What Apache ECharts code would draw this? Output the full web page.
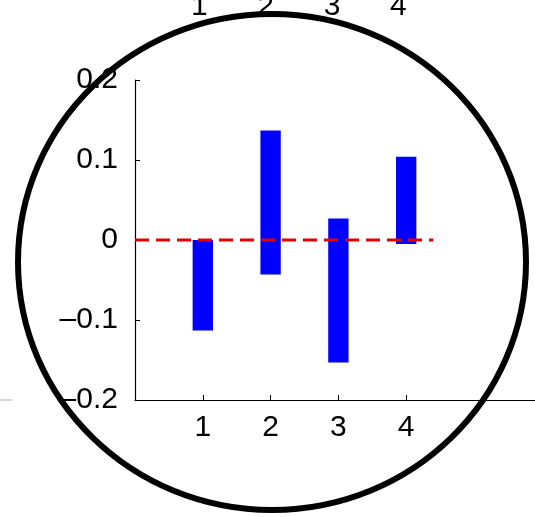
<!DOCTYPE html>
<html>
<head>
<meta charset="utf-8">
<script src="https://cdn.jsdelivr.net/npm/echarts@6/dist/echarts.min.js"></script>
<style>
  html, body { margin: 0; padding: 0; background: #fff; }
  #chart { width: 535px; height: 517px; }
</style>
</head>
<body>
<div id="chart"></div>
<script>
// Floating bars: each spans [low, high] at its category position
const categories = [1, 2, 3, 4];
const barLow  = [-0.113, -0.043, -0.153, -0.005];
const barHigh = [0.0, 0.137, 0.027, 0.104];
const yTicks = [-0.2, -0.1, 0, 0.1, 0.2];
const topLabels = [1, 2, 3, 4];
// Dashed zero reference line extent along x
const refLineX = [0, 4.4];

const font = 'Liberation Sans, Arial, Helvetica, sans-serif';

const barData = categories.map((c, i) => [c, barLow[i], barHigh[i]]);

const chart = echarts.init(document.getElementById('chart'), null, { renderer: 'canvas' });

chart.setOption({
  animation: false,
  backgroundColor: '#ffffff',
  grid: [
    { left: 135, right: 0, top: 80, bottom: 117, containLabel: false },
    { left: 133, width: 398, top: -22, height: 6, containLabel: false }
  ],
  xAxis: [
    {
      gridIndex: 0,
      type: 'value',
      min: 0,
      max: 5.9,
      interval: 1,
      splitLine: { show: false },
      axisLine: { show: true, onZero: false, lineStyle: { color: '#000', width: 1.2 } },
      axisTick: { show: true, inside: true, length: 5, customValues: categories, lineStyle: { color: '#000' } },
      axisLabel: {
        customValues: categories,
        color: '#000', fontSize: 30, fontFamily: font, margin: 13
      }
    },
    {
      gridIndex: 1,
      type: 'value',
      min: 0,
      max: 6,
      interval: 1,
      splitLine: { show: false },
      axisLine: { show: false },
      axisTick: { show: false },
      axisLabel: {
        customValues: topLabels,
        color: '#000', fontSize: 30, fontFamily: font, margin: 6
      }
    }
  ],
  yAxis: [
    {
      gridIndex: 0,
      type: 'value',
      min: -0.2,
      max: 0.2,
      interval: 0.1,
      splitLine: { show: false },
      axisLine: { show: true, onZero: false, lineStyle: { color: '#000', width: 1.2 } },
      axisTick: { show: true, inside: true, length: 5, lineStyle: { color: '#000' } },
      axisLabel: {
        color: '#000', fontSize: 30, fontFamily: font, margin: 17,
        formatter: v => {
          const r = Math.round(v * 10) / 10;
          return r < 0 ? '\u2013' + String(-r) : String(r);
        }
      }
    },
    {
      gridIndex: 1,
      type: 'value',
      show: false
    }
  ],
  series: [
    {
      type: 'custom',
      xAxisIndex: 0,
      yAxisIndex: 0,
      data: barData,
      encode: { x: 0, y: [1, 2] },
      renderItem: (params, api) => {
        const x = api.value(0);
        const lo = api.coord([x, api.value(1)]);
        const hi = api.coord([x, api.value(2)]);
        const w = api.size([0.3, 0])[0];
        return {
          type: 'rect',
          shape: { x: lo[0] - w / 2, y: hi[1], width: w, height: lo[1] - hi[1] },
          style: { fill: '#0000ff' }
        };
      },
      z: 2
    },
    {
      type: 'line',
      xAxisIndex: 0,
      yAxisIndex: 0,
      data: refLineX.map(x => [x, 0]),
      symbol: 'none',
      lineStyle: { color: '#e00000', width: 3, type: [14, 7] },
      z: 3
    }
  ],
  graphic: [
    {
      type: 'line',
      shape: { x1: 0, y1: 400, x2: 12, y2: 400 },
      style: { stroke: '#aaa', lineWidth: 1 },
      z: 5
    },
    {
      type: 'ellipse',
      shape: { cx: 272, cy: 262, rx: 254, ry: 248 },
      style: { fill: null, stroke: '#000', lineWidth: 6 },
      z: 100
    }
  ]
});
</script>
</body>
</html>
